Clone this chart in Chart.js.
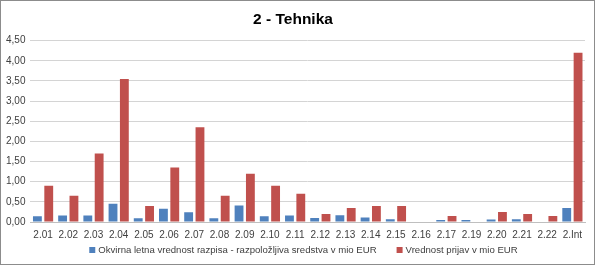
<!DOCTYPE html>
<html>
<head>
<meta charset="utf-8">
<script src="https://cdn.jsdelivr.net/npm/chart.js@4/dist/chart.umd.min.js"></script>
<style>
  html, body { margin: 0; padding: 0; background: #fff; }
  #wrap { width: 595px; height: 267px; position: relative; }
  #c { display: block; position: absolute; left: 1px; top: 1px; }
  #frame { position: absolute; left: 0; top: 0; width: 595px; height: 265px; box-sizing: border-box; border: 1px solid #8c8c8c; pointer-events: none; }
</style>
</head>
<body>
<div id="wrap"><canvas id="c" width="593" height="263"></canvas><div id="frame"></div></div>
<script>
const categories = ["2.01","2.02","2.03","2.04","2.05","2.06","2.07","2.08","2.09","2.10","2.11","2.12","2.13","2.14","2.15","2.16","2.17","2.19","2.20","2.21","2.22","2.Int"];
const available = [0.14,0.16,0.16,0.45,0.09,0.33,0.24,0.09,0.41,0.14,0.16,0.10,0.17,0.11,0.07,0,0.05,0.05,0.06,0.07,0,0.35];
const applications = [0.90,0.65,1.70,3.55,0.40,1.35,2.35,0.65,1.20,0.90,0.70,0.20,0.35,0.40,0.40,0,0.15,0,0.25,0.20,0.15,4.20];
const seriesNames = ["Okvirna letna vrednost razpisa - razpoložljiva sredstva v mio EUR", "Vrednost prijav v mio EUR"];
const titleText = "2 - Tehnika";

const FONT = "'Liberation Sans', Arial, sans-serif";

// Legend drawn from the chart's own datasets (label + colour), laid out like the original
const bottomLegend = {
  id: 'bottomLegend',
  afterDraw(chart) {
    const ctx = chart.ctx;
    ctx.save();
    ctx.font = '9.6px ' + FONT;
    ctx.textBaseline = 'middle';
    const box = 6, boxGap = 3, itemGap = 20;
    const items = chart.data.datasets.map(d => ({ text: d.label, color: d.backgroundColor, w: ctx.measureText(d.label).width }));
    const total = items.reduce((s, it) => s + box + boxGap + it.w, 0) + itemGap * (items.length - 1);
    let x = chart.width / 2 + 6 - total / 2;
    const y = 249;
    items.forEach(it => {
      ctx.fillStyle = it.color;
      ctx.fillRect(x, y - box / 2, box, box);
      x += box + boxGap;
      ctx.fillStyle = '#404040';
      ctx.fillText(it.text, x, y);
      x += it.w + itemGap;
    });
    ctx.restore();
  }
};

new Chart(document.getElementById('c'), {
  type: 'bar',
  data: {
    labels: categories,
    datasets: [
      { label: seriesNames[0], data: available, backgroundColor: '#4f81bd', categoryPercentage: 0.9, barPercentage: 0.78 },
      { label: seriesNames[1], data: applications, backgroundColor: '#c0504d', categoryPercentage: 0.9, barPercentage: 0.78 }
    ]
  },
  plugins: [bottomLegend],
  options: {
    responsive: false,
    animation: false,
    layout: { padding: { left: 0, right: 9, top: 0, bottom: 16 } },
    plugins: {
      title: {
        display: true, text: titleText, color: '#000',
        font: { family: FONT, size: 15.5, weight: 'bold' },
        padding: { top: 9, bottom: 12 }
      },
      legend: { display: false },
      tooltip: { enabled: false }
    },
    scales: {
      x: {
        grid: { display: false, drawTicks: false },
        border: { color: '#bfbfbf' },
        ticks: { color: '#404040', font: { family: FONT, size: 10 }, maxRotation: 0, autoSkip: false, padding: 7 }
      },
      y: {
        min: 0, max: 4.5,
        ticks: { stepSize: 0.5, color: '#404040', padding: 5,
          font: { family: FONT, size: 10 },
          callback: v => v.toFixed(2).replace('.', ',') },
        grid: { color: '#d4d4d4', drawTicks: false, lineWidth: 1 },
        border: { display: false }
      }
    }
  }
});
</script>
</body>
</html>
